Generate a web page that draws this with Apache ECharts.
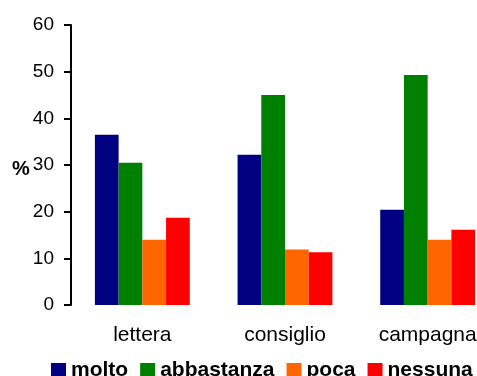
<!DOCTYPE html>
<html>
<head>
<meta charset="utf-8">
<script src="https://cdn.jsdelivr.net/npm/echarts@6/dist/echarts.min.js"></script>
<style>
  html, body { margin: 0; padding: 0; background: #fff; }
  #chart { width: 477px; height: 376px; }
</style>
</head>
<body>
<div id="chart"></div>
<script>
// Survey answers by channel, in percent
const categories = ['lettera', 'consiglio', 'campagna'];
const seriesNames = ['molto', 'abbastanza', 'poca', 'nessuna'];
const molto = [36.5, 32.2, 20.4];
const abbastanza = [30.5, 45.0, 49.3];
const poca = [14.0, 11.9, 14.0];
const nessuna = [18.7, 11.3, 16.1];
const yTicks = [0, 10, 20, 30, 40, 50, 60];

const seriesData = [molto, abbastanza, poca, nessuna];
const colors = ['#000080', '#008000', '#FF6600', '#FF0000'];
const font = 'Liberation Sans, Arial, sans-serif';

const chart = echarts.init(document.getElementById('chart'), null, { renderer: 'canvas' });

chart.setOption({
  animation: false,
  backgroundColor: '#ffffff',
  // the plot runs past the right edge of the page, so the last group sits near the border
  grid: { left: 71, width: 428, top: 25, bottom: 71, containLabel: false, outerBoundsMode: 'none' },
  legend: {
    data: seriesNames,
    left: 51,
    top: 360,
    width: 470,
    padding: 0,
    itemWidth: 15,
    itemHeight: 15,
    itemGap: 12,
    icon: 'rect',
    textStyle: { fontFamily: font, fontSize: 21, fontWeight: 'bold', color: '#000' }
  },
  graphic: [{
    type: 'text',
    left: 12,
    top: 159,
    style: { text: '%', font: 'bold 20px ' + font, fill: '#000' }
  }],
  xAxis: {
    type: 'category',
    data: categories,
    axisLine: { show: false },
    axisTick: { show: false },
    axisLabel: { margin: 20, fontFamily: font, fontSize: 21, color: '#000' }
  },
  yAxis: {
    type: 'value',
    min: yTicks[0],
    max: yTicks[yTicks.length - 1],
    interval: 10,
    splitLine: { show: false },
    axisLine: { show: true, lineStyle: { color: '#000', width: 2 } },
    axisTick: { show: true, length: 7, lineStyle: { color: '#000', width: 2 } },
    axisLabel: { margin: 17, fontFamily: font, fontSize: 19, color: '#000' }
  },
  series: seriesNames.map((name, i) => ({
    name: name,
    type: 'bar',
    data: seriesData[i],
    barGap: '0%',
    barCategoryGap: '33.5%',
    itemStyle: { color: colors[i] }
  }))
});
</script>
</body>
</html>
